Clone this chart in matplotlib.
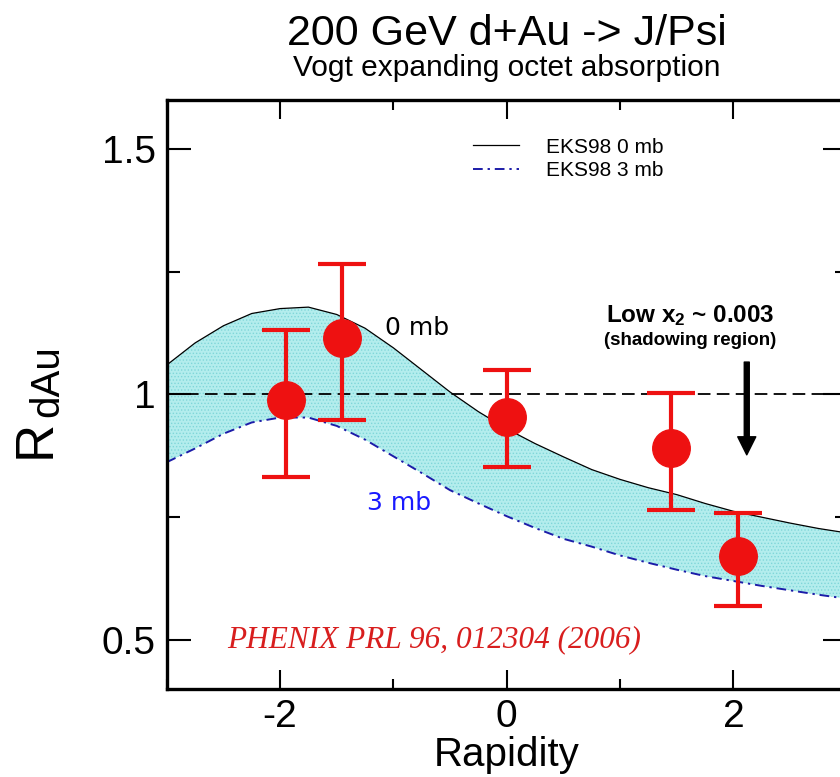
import numpy as np
import matplotlib.pyplot as plt
from matplotlib.lines import Line2D
from matplotlib.ticker import MultipleLocator

plt.rcParams['font.family'] = ['Liberation Sans', 'DejaVu Sans']
plt.rcParams['mathtext.fontset'] = 'custom'
plt.rcParams['mathtext.rm'] = 'Liberation Sans'
plt.rcParams['mathtext.it'] = 'Liberation Sans:italic'
plt.rcParams['mathtext.bf'] = 'Liberation Sans:bold'
plt.rcParams['axes.unicode_minus'] = False
plt.rcParams['hatch.linewidth'] = 0.6

# ---------------------------------------------------------------------
# EKS98 shadowing + octet absorption band (Vogt)
# ---------------------------------------------------------------------
y_theory = np.array([-3.0, -2.75, -2.5, -2.25, -2.0, -1.75, -1.5, -1.25, -1.0,
                     -0.75, -0.5, -0.25, 0.0, 0.25, 0.5, 0.75, 1.0, 1.25,
                     1.5, 1.75, 2.0, 2.25, 2.5, 2.75, 3.0])
eks_0mb = np.array([1.060, 1.105, 1.140, 1.165, 1.175, 1.178, 1.163, 1.135, 1.095,
                    1.050, 1.005, 0.965, 0.930, 0.900, 0.873, 0.847, 0.827, 0.810,
                    0.796, 0.778, 0.762, 0.750, 0.738, 0.727, 0.718])
eks_3mb = np.array([0.862, 0.890, 0.920, 0.943, 0.953, 0.953, 0.936, 0.908, 0.874,
                    0.840, 0.805, 0.778, 0.752, 0.728, 0.706, 0.690, 0.672, 0.657,
                    0.643, 0.630, 0.620, 0.610, 0.601, 0.592, 0.584])

# PHENIX d+Au J/psi R_dAu
y_data = [-1.95, -1.45, 0.0, 1.45, 2.04]
rdau = [0.988, 1.116, 0.954, 0.890, 0.670]
err_lo = [0.157, 0.167, 0.102, 0.125, 0.100]
err_hi = [0.143, 0.149, 0.095, 0.113, 0.088]

RED = '#ee1111'
BLUE = '#1c1ca8'
DASHDOT = (0, (5, 2.5, 1.2, 2.5))

fig = plt.figure(figsize=(8.4, 7.77), dpi=100)
ax = fig.add_axes([0.1985, 0.1133, 0.8095, 0.758])

ax.fill_between(y_theory, eks_3mb, eks_0mb, facecolor='#b3eded',
                edgecolor='#80d6d9', hatch='.....', linewidth=0, zorder=1)
ax.plot(y_theory, eks_0mb, color='black', lw=0.9, zorder=2)
ax.plot(y_theory, eks_3mb, color=BLUE, lw=1.4, linestyle=DASHDOT, zorder=2)
ax.axhline(1.0, color='black', lw=1.3, linestyle=(0, (7, 3.5)), zorder=3)

ax.errorbar(y_data, rdau, yerr=[err_lo, err_hi], fmt='o', color=RED,
            ms=27, elinewidth=3, capsize=17, capthick=3, zorder=4)

# legend
handles = [Line2D([], [], color='black', lw=0.9),
           Line2D([], [], color=BLUE, lw=1.4, linestyle=DASHDOT)]
ax.legend(handles, ['EKS98 0 mb', 'EKS98 3 mb'], loc='upper left',
          bbox_to_anchor=(0.45, 0.936), frameon=False, fontsize=15,
          handlelength=2.2, handletextpad=1.3, borderpad=0,
          borderaxespad=0, labelspacing=0.2)

# annotations
ax.text(-1.074, 1.135, '0 mb', fontsize=18, color='black',
        family='DejaVu Sans', va='center', ha='left')
ax.text(-1.234, 0.779, '3 mb', fontsize=18, color='#1a1aff',
        family='DejaVu Sans', va='center', ha='left')
ax.text(1.62, 1.161, r'Low x$_{\mathbf{2}}$ ~ 0.003', fontsize=17.5,
        fontweight='bold', ha='center', va='center')
ax.text(1.62, 1.110, '(shadowing region)', fontsize=13.5,
        fontweight='bold', ha='center', va='center')
ax.annotate('', xy=(2.118, 0.877), xytext=(2.118, 1.066),
            arrowprops=dict(facecolor='black', edgecolor='black',
                            width=3.6, headwidth=13, headlength=13, shrink=0))
ax.text(-2.469, 0.50, 'PHENIX PRL 96, 012304 (2006)', fontsize=22.5,
        family='Liberation Serif', style='italic', color='#d81e1e',
        ha='left', va='center')

ax.set_xlim(-3, 3)
ax.set_ylim(0.4, 1.6)
ax.xaxis.set_major_locator(MultipleLocator(2))
ax.xaxis.set_minor_locator(MultipleLocator(1))
ax.yaxis.set_minor_locator(MultipleLocator(0.25))
ax.set_yticks([0.5, 1.0, 1.5])
ax.set_yticklabels(['0.5', '1', '1.5'])
ax.tick_params(which='both', direction='in', top=True, right=True,
               width=1.5, labelsize=28)
ax.tick_params(axis='x', which='major', length=14, pad=7)
ax.tick_params(axis='x', which='minor', length=7)
ax.tick_params(axis='y', which='major', length=17, pad=8)
ax.tick_params(axis='y', which='minor', length=9)
for sp in ax.spines.values():
    sp.set_linewidth(2.4)

ax.set_xlabel('Rapidity', fontsize=29, labelpad=1)

# y label: R with a large dAu subscript, rotated
fig.text(50 / 840, 1 - 458 / 777, 'R', fontsize=38, rotation=90,
         rotation_mode='anchor', ha='left', va='baseline')
fig.text(58 / 840, 1 - 417 / 777, 'dAu', fontsize=29, rotation=90,
         rotation_mode='anchor', ha='left', va='baseline')

fig.text(0.603, 0.956, '200 GeV d+Au -> J/Psi', fontsize=31,
         ha='center', va='center')
fig.text(0.603, 0.912, 'Vogt expanding octet absorption', fontsize=21.5,
         ha='center', va='center')

fig.savefig('out.png', dpi=100)
